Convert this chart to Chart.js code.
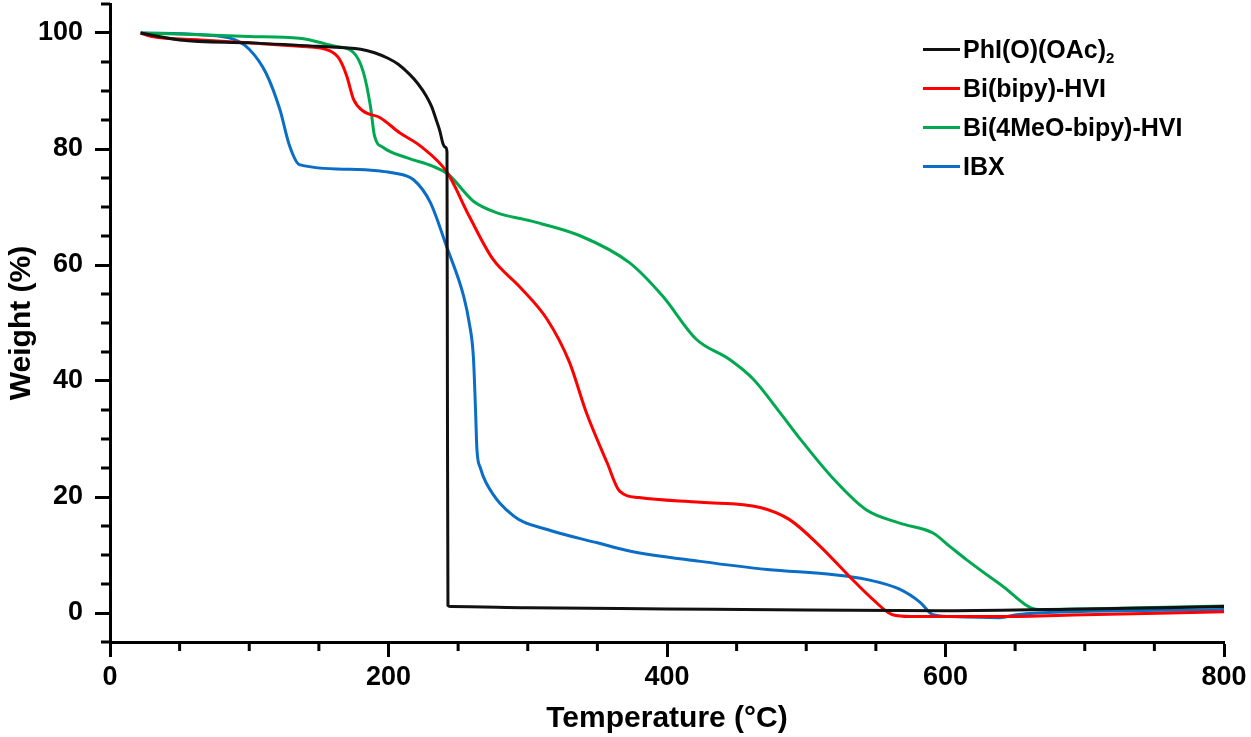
<!DOCTYPE html>
<html>
<head>
<meta charset="utf-8">
<script src="https://cdn.jsdelivr.net/npm/chart.js@4.4.1/dist/chart.umd.min.js"></script>
<style>
  body { margin: 0; background: #fff; }
  #wrap { position: relative; width: 1251px; height: 737px; }
  #legend { position: absolute; left: 923px; top: 30px; font-family: "Liberation Sans", Arial, sans-serif; font-weight: bold; font-size: 25px; color: #000; }
  .row { height: 39px; display: flex; align-items: center; white-space: nowrap; }
  .swatch { width: 37px; height: 3px; margin-right: 3px; }
  sub { font-size: 15px; vertical-align: -5px; line-height: 0; }
</style>
</head>
<body>
<div id="wrap">
  <canvas id="tga" width="1251" height="737"></canvas>
  <div id="legend"></div>
</div>
<script>
// TGA curves: temperature (°C) and weight (%)
const labels = ["PhI(O)(OAc)<sub>2</sub>", "Bi(bipy)-HVI", "Bi(4MeO-bipy)-HVI", "IBX"];
const colors = ["#111111", "#ff0000", "#00a84f", "#0a6dc6"];

const blackT = [22, 50, 100, 150, 180, 190, 200, 207, 215, 221, 227, 231, 234, 237, 239, 241, 242, 242.3, 242.7, 245, 300, 400, 500, 600, 700, 800];
const blackW = [100, 98.8, 98.3, 97.7, 97.2, 96.6, 95.6, 94.6, 92.9, 91.3, 89.2, 87.3, 85.2, 83, 81, 80.3, 79.5, 40, 1.3, 1.1, 0.9, 0.7, 0.5, 0.4, 0.7, 1.1];

const redT = [22, 30, 65, 100, 136, 158, 165, 170, 175, 182, 194, 208, 223, 242, 258, 275, 294, 314, 330, 342, 357, 366, 380, 424, 467, 488, 510, 531, 548, 562, 575, 600, 639, 700, 800];
const redW = [100, 99.4, 98.8, 98.3, 97.7, 96.9, 95.4, 92.6, 88.5, 86.5, 85.4, 82.8, 80.5, 76, 68.4, 61, 56.3, 50.6, 43.2, 34.6, 25.9, 21, 19.9, 19.1, 18.2, 16.1, 11.5, 6.3, 2.3, -0.3, -0.6, -0.6, -0.6, -0.3, 0.2];

const greenT = [22, 65, 100, 136, 160, 175, 182, 187, 190, 196, 213, 232, 243, 261, 278, 302, 338, 373, 397, 421, 445, 462, 481, 496, 520, 543, 567, 591, 603, 615, 639, 667, 700, 800];
const greenW = [100, 99.7, 99.4, 99.1, 97.8, 96.6, 93.2, 87.4, 82.2, 80.3, 78.5, 77, 75.6, 71, 69, 67.6, 65, 60.4, 54.6, 47.2, 43.7, 40.3, 34.6, 29.9, 23, 17.8, 15.5, 13.8, 11.5, 9.2, 5, 0.6, 0.7, 1.2];

const blueT = [22, 65, 89, 100, 112, 122, 129, 136, 172, 194, 203, 218, 230, 242, 254, 258, 261, 262.5, 263.5, 266, 270, 290, 314, 350, 373, 424, 472, 520, 543, 567, 582, 591, 603, 639, 651, 666, 800];
const blueW = [100, 99.7, 98.9, 97.2, 93.1, 86.8, 80.5, 77.3, 76.5, 76.2, 75.9, 74.7, 70.8, 63, 54.6, 50, 44, 35, 28.2, 25, 22.5, 16.7, 14.4, 12.1, 10.7, 8.9, 7.5, 6.6, 5.8, 4.1, 1.8, -0.3, -0.6, -0.8, -0.3, 0, 0.6];

const xTicks = [0, 200, 400, 600, 800];
const yTicks = [0, 20, 40, 60, 80, 100];
const xMinor = [50, 100, 150, 250, 300, 350, 450, 500, 550, 650, 700, 750];
const yMinor = [-5, 5, 10, 15, 25, 30, 35, 45, 50, 55, 65, 70, 75, 85, 90, 95, 105];

const series = [[blackT, blackW], [redT, redW], [greenT, greenW], [blueT, blueW]];

function pts(t, w) {
  return t.map((v, i) => ({ x: v, y: w[i] }));
}

const FONT = '"Liberation Sans", Arial, sans-serif';
Chart.defaults.font.family = FONT;
Chart.defaults.color = "#000";

// minor tick marks (shorter than the labelled ones)
const minorTicks = {
  id: "minorTicks",
  afterDraw(chart) {
    const c = chart.ctx, a = chart.chartArea;
    const sx = chart.scales.x, sy = chart.scales.y;
    c.save();
    c.strokeStyle = "#000";
    c.lineWidth = 3;
    c.beginPath();
    xMinor.forEach(v => {
      const p = sx.getPixelForValue(v);
      c.moveTo(p, a.bottom);
      c.lineTo(p, a.bottom + 9);
    });
    yMinor.forEach(v => {
      const p = sy.getPixelForValue(v);
      c.moveTo(a.left, p);
      c.lineTo(a.left - 9, p);
    });
    c.stroke();
    c.restore();
  }
};

new Chart(document.getElementById("tga"), {
  type: "scatter",
  data: {
    datasets: series.map((s, i) => ({
      label: labels[i],
      data: pts(s[0], s[1]),
      showLine: true,
      borderColor: colors[i],
      borderWidth: 3,
      pointRadius: 0,
      cubicInterpolationMode: "monotone",
    })),
  },
  options: {
    responsive: false,
    animation: false,
    layout: { padding: { top: 4, right: 27, left: 0, bottom: 0 } },
    plugins: { legend: { display: false }, tooltip: { enabled: false } },
    scales: {
      x: {
        type: "linear",
        min: 0,
        max: 800,
        afterBuildTicks: s => { s.ticks = xTicks.map(v => ({ value: v })); },
        afterFit: s => { s.height = 95; s.paddingLeft = 0; s.paddingRight = 0; },
        ticks: { font: { size: 27, weight: "bold" }, padding: 4, maxRotation: 0 },
        grid: { drawOnChartArea: false, tickLength: 15, tickWidth: 3, tickColor: "#000" },
        border: { color: "#000", width: 3 },
        title: { display: true, text: "Temperature (°C)", font: { size: 30, weight: "bold" }, padding: 0 },
      },
      y: {
        min: -5,
        max: 105,
        afterBuildTicks: s => { s.ticks = yTicks.map(v => ({ value: v })); },
        afterFit: s => { s.width = 110; s.paddingTop = 0; s.paddingBottom = 0; },
        ticks: { font: { size: 27, weight: "bold" }, padding: 12 },
        grid: { drawOnChartArea: false, tickLength: 15, tickWidth: 3, tickColor: "#000" },
        border: { color: "#000", width: 3 },
        title: { display: true, text: "Weight (%)", font: { size: 30, weight: "bold" }, padding: { top: 4, bottom: 0 } },
      },
    },
  },
  plugins: [minorTicks],
});

// legend drawn as html so the subscript stays real text
document.getElementById("legend").innerHTML = labels.map((l, i) =>
  `<div class="row"><span class="swatch" style="background:${colors[i]}"></span><span>${l}</span></div>`
).join("");
</script>
</body>
</html>
